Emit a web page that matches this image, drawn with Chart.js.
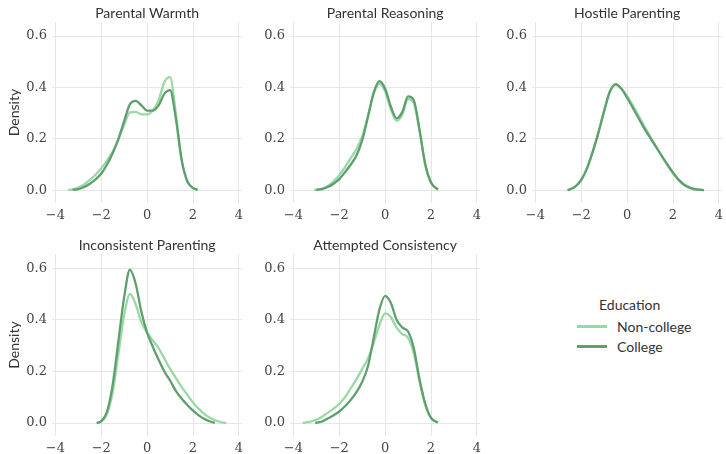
<!DOCTYPE html>
<html>
<head>
<meta charset="utf-8">
<script src="https://cdn.jsdelivr.net/npm/chart.js@4.4.1/dist/chart.umd.min.js"></script>
<style>
  body { margin: 0; background: #fff; width: 726px; height: 454px; position: relative; overflow: hidden; }
  .panel { position: absolute; width: 248px; }
  .legend { position: absolute; left: 570px; top: 296px; font-family: "Lato", "DejaVu Sans", sans-serif; font-size: 14px; color: #333; }
  .legend .ttl { position: absolute; left: 29px; top: 0; white-space: nowrap; }
  .legend .row { position: absolute; left: 7px; white-space: nowrap; display: flex; align-items: center; }
  .legend .sw { width: 30px; height: 3px; margin-right: 10px; }
</style>
</head>
<body>
<div class="panel" style="left:0px;top:0px;height:225px"><canvas id="c1"></canvas></div>
<div class="panel" style="left:238px;top:0px;height:225px"><canvas id="c2"></canvas></div>
<div class="panel" style="left:480px;top:0px;height:225px"><canvas id="c3"></canvas></div>
<div class="panel" style="left:0px;top:232px;height:226px"><canvas id="c4"></canvas></div>
<div class="panel" style="left:238px;top:232px;height:226px"><canvas id="c5"></canvas></div>
<div class="legend">
  <div class="ttl">Education</div>
  <div class="row" style="top:22px"><div class="sw" style="background:#9ad8a6"></div>Non-college</div>
  <div class="row" style="top:42px"><div class="sw" style="background:#5f9f6e"></div>College</div>
</div>
<script>
const seriesNames = ['Non-college', 'College'];
const seriesColors = ['#9ad8a6', '#5f9f6e'];

// Parental Warmth
const warmthNonX = [-3.45, -3.25, -3, -2.75, -2.5, -2.25, -2, -1.75, -1.5, -1.25, -1, -0.75, -0.5, -0.25, 0, 0.25, 0.5, 0.75, 1, 1.25, 1.5, 1.75, 2, 2.2];
const warmthNonY = [0, 0.003, 0.01, 0.022, 0.04, 0.06, 0.085, 0.115, 0.15, 0.2, 0.255, 0.303, 0.305, 0.295, 0.295, 0.31, 0.35, 0.42, 0.44, 0.3, 0.12, 0.035, 0.008, 0.002];
const warmthColX = [-3.25, -3, -2.75, -2.5, -2.25, -2, -1.75, -1.5, -1.25, -1, -0.75, -0.5, -0.25, 0, 0.25, 0.5, 0.75, 1, 1.25, 1.5, 1.75, 2, 2.2];
const warmthColY = [0.001, 0.004, 0.012, 0.025, 0.042, 0.065, 0.1, 0.145, 0.2, 0.27, 0.335, 0.348, 0.33, 0.31, 0.31, 0.33, 0.375, 0.39, 0.28, 0.12, 0.035, 0.008, 0.002];

// Parental Reasoning
const reasonNonX = [-3.1, -3, -2.75, -2.5, -2.25, -2, -1.75, -1.5, -1.25, -1, -0.75, -0.5, -0.25, 0, 0.25, 0.5, 0.75, 1, 1.25, 1.5, 1.75, 2, 2.3];
const reasonNonY = [0, 0.002, 0.006, 0.016, 0.035, 0.058, 0.09, 0.125, 0.16, 0.21, 0.29, 0.375, 0.415, 0.385, 0.315, 0.27, 0.295, 0.355, 0.34, 0.23, 0.1, 0.03, 0.002];
const reasonColX = [-3, -2.75, -2.5, -2.25, -2, -1.75, -1.5, -1.25, -1, -0.75, -0.5, -0.25, 0, 0.25, 0.5, 0.75, 1, 1.25, 1.5, 1.75, 2, 2.3];
const reasonColY = [0.001, 0.004, 0.012, 0.025, 0.043, 0.07, 0.1, 0.135, 0.195, 0.285, 0.38, 0.425, 0.395, 0.325, 0.28, 0.305, 0.365, 0.35, 0.235, 0.1, 0.03, 0.002];

// Hostile Parenting
const hostileNonX = [-2.6, -2.5, -2.25, -2, -1.75, -1.5, -1.25, -1, -0.75, -0.5, -0.25, 0, 0.25, 0.5, 0.75, 1, 1.25, 1.5, 1.75, 2, 2.25, 2.5, 2.75, 3, 3.35];
const hostileNonY = [0, 0.003, 0.015, 0.04, 0.085, 0.15, 0.225, 0.31, 0.383, 0.41, 0.395, 0.365, 0.33, 0.29, 0.25, 0.21, 0.172, 0.135, 0.1, 0.068, 0.04, 0.02, 0.009, 0.003, 0];
const hostileColX = [-2.6, -2.5, -2.25, -2, -1.75, -1.5, -1.25, -1, -0.75, -0.5, -0.25, 0, 0.25, 0.5, 0.75, 1, 1.25, 1.5, 1.75, 2, 2.25, 2.5, 2.75, 3, 3.35];
const hostileColY = [0, 0.003, 0.015, 0.04, 0.085, 0.15, 0.225, 0.31, 0.385, 0.413, 0.395, 0.36, 0.32, 0.28, 0.24, 0.205, 0.17, 0.135, 0.1, 0.068, 0.04, 0.02, 0.009, 0.003, 0];

// Inconsistent Parenting
const inconNonX = [-2.2, -2, -1.75, -1.5, -1.25, -1, -0.75, -0.5, -0.25, 0, 0.25, 0.5, 0.75, 1, 1.25, 1.5, 1.75, 2, 2.25, 2.5, 2.75, 3, 3.25, 3.45];
const inconNonY = [0, 0.006, 0.035, 0.12, 0.27, 0.42, 0.5, 0.46, 0.39, 0.35, 0.32, 0.29, 0.25, 0.21, 0.175, 0.14, 0.11, 0.08, 0.055, 0.035, 0.02, 0.01, 0.003, 0];
const inconColX = [-2.2, -2, -1.75, -1.5, -1.25, -1, -0.75, -0.5, -0.25, 0, 0.25, 0.5, 0.75, 1, 1.25, 1.5, 1.75, 2, 2.25, 2.5, 2.75, 2.95];
const inconColY = [0, 0.008, 0.045, 0.15, 0.32, 0.49, 0.594, 0.54, 0.43, 0.35, 0.295, 0.245, 0.2, 0.165, 0.125, 0.095, 0.07, 0.048, 0.03, 0.016, 0.006, 0.001];

// Attempted Consistency
const attemptNonX = [-3.6, -3.5, -3.25, -3, -2.75, -2.5, -2.25, -2, -1.75, -1.5, -1.25, -1, -0.75, -0.5, -0.25, 0, 0.25, 0.5, 0.75, 1, 1.25, 1.5, 1.75, 2, 2.3];
const attemptNonY = [0, 0.002, 0.006, 0.014, 0.025, 0.04, 0.056, 0.075, 0.1, 0.135, 0.17, 0.21, 0.25, 0.31, 0.38, 0.425, 0.41, 0.37, 0.345, 0.33, 0.27, 0.16, 0.07, 0.02, 0.002];
const attemptColX = [-3.05, -2.75, -2.5, -2.25, -2, -1.75, -1.5, -1.25, -1, -0.75, -0.5, -0.25, 0, 0.25, 0.5, 0.75, 1, 1.25, 1.5, 1.75, 2, 2.3];
const attemptColY = [0.001, 0.006, 0.018, 0.03, 0.045, 0.065, 0.09, 0.12, 0.16, 0.22, 0.33, 0.44, 0.493, 0.465, 0.4, 0.37, 0.355, 0.29, 0.17, 0.075, 0.02, 0.002];

const xTicks = [-4, -2, 0, 2, 4];
const yTicks = [0, 0.2, 0.4, 0.6];

const panels = [
  { id: 'c1', title: 'Parental Warmth', ylab: true, x: [warmthNonX, warmthColX], y: [warmthNonY, warmthColY] },
  { id: 'c2', title: 'Parental Reasoning', ylab: false, x: [reasonNonX, reasonColX], y: [reasonNonY, reasonColY] },
  { id: 'c3', title: 'Hostile Parenting', ylab: false, x: [hostileNonX, hostileColX], y: [hostileNonY, hostileColY] },
  { id: 'c4', title: 'Inconsistent Parenting', ylab: true, x: [inconNonX, inconColX], y: [inconNonY, inconColY] },
  { id: 'c5', title: 'Attempted Consistency', ylab: false, x: [attemptNonX, attemptColX], y: [attemptNonY, attemptColY] }
];

const sansFont = '"Lato", "DejaVu Sans", sans-serif';
const serifFont = '"DejaVu Serif", "Liberation Serif", serif';

// title centred over the plot area, not the whole canvas
const panelTitle = {
  id: 'panelTitle',
  afterDraw(chart, args, opts) {
    const { ctx, chartArea } = chart;
    ctx.save();
    ctx.font = '14px "Lato", "DejaVu Sans", sans-serif';
    ctx.fillStyle = '#333';
    ctx.textAlign = 'center';
    ctx.textBaseline = 'middle';
    ctx.fillText(opts.text, (chartArea.left + chartArea.right) / 2, 13);
    ctx.restore();
  }
};

const makeChart = (p) => {
  const datasets = seriesNames.map((name, i) => ({
    label: name,
    data: p.x[i].map((v, j) => ({ x: v, y: p.y[i][j] })),
    borderColor: seriesColors[i],
    borderWidth: 2.3,
    pointRadius: 0,
    tension: 0.4,
    cubicInterpolationMode: 'monotone',
    fill: false,
    order: i === 0 ? 1 : 0
  }));

  new Chart(document.getElementById(p.id), {
    type: 'line',
    data: { datasets },
    plugins: [panelTitle],
    options: {
      animation: false,
      responsive: true,
      maintainAspectRatio: false,
      layout: { padding: { top: 22 } },
      plugins: {
        legend: { display: false },
        tooltip: { enabled: false },
        panelTitle: { text: p.title }
      },
      scales: {
        x: {
          type: 'linear',
          min: -4.15,
          max: 4.15,
          afterBuildTicks: s => { s.ticks = xTicks.map(v => ({ value: v })); },
          afterFit: s => { s.height = 22; },
          grid: { color: '#e6e6e6', drawTicks: false },
          border: { display: false },
          ticks: {
            padding: 5,
            color: '#444',
            maxRotation: 0,
            font: { family: serifFont, size: 13 },
            callback: v => v < 0 ? '\u2212' + Math.abs(v) : String(v)
          }
        },
        y: {
          min: -0.05,
          max: 0.655,
          afterBuildTicks: s => { s.ticks = yTicks.map(v => ({ value: v })); },
          afterFit: s => { s.width = 52; },
          grid: { color: '#e6e6e6', drawTicks: false },
          border: { display: false },
          title: {
            display: p.ylab,
            text: 'Density',
            color: '#333',
            font: { family: sansFont, size: 14 },
            padding: { top: 6, bottom: 0 }
          },
          ticks: {
            padding: 5,
            color: '#444',
            font: { family: serifFont, size: 13 },
            callback: v => v.toFixed(1)
          }
        }
      }
    }
  });
};

panels.forEach(makeChart);
</script>
</body>
</html>
